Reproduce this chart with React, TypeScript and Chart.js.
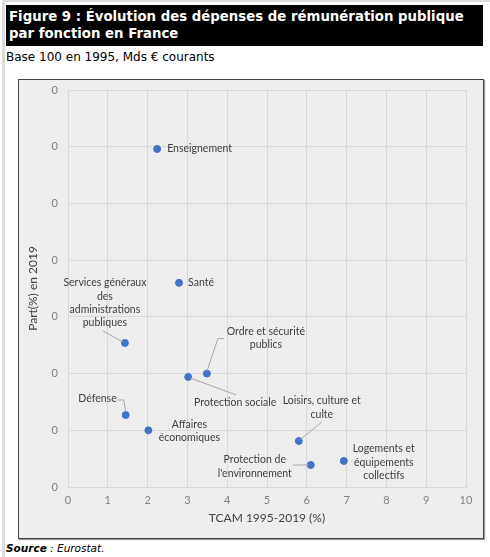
import React, { useEffect, useRef } from "react";
import { Chart, registerables } from "chart.js";

Chart.register(...registerables);

// ---- Data ----
const categories = [
  "Enseignement",
  "Santé",
  "Services généraux des administrations publiques",
  "Ordre et sécurité publics",
  "Protection sociale",
  "Défense",
  "Affaires économiques",
  "Loisirs, culture et culte",
  "Protection de l'environnement",
  "Logements et équipements collectifs",
];
const tcam = [2.24, 2.79, 1.43, 3.49, 3.02, 1.45, 2.02, 5.8, 6.1, 6.93];
const part = [0.298, 0.18, 0.127, 0.1, 0.097, 0.0635, 0.05, 0.0406, 0.0194, 0.023];
const xTickValues = [0, 1, 2, 3, 4, 5, 6, 7, 8, 9, 10];
const yTickValues = [0, 0.05, 0.1, 0.15, 0.2, 0.25, 0.3, 0.35];

const labelLines = [
  ["Enseignement"],
  ["Santé"],
  ["Services généraux", "des", "administrations", "publiques"],
  ["Ordre et sécurité", "publics"],
  ["Protection sociale"],
  ["Défense"],
  ["Affaires", "économiques"],
  ["Loisirs, culture et", "culte"],
  ["Protection de", "l'environnement"],
  ["Logements et", "équipements", "collectifs"],
];

// label placement relative to each point (pixels)
type Lay = { dx: number; dy: number; align: CanvasTextAlign; lead?: number[][] };
const layout: Lay[] = [
  { dx: 10, dy: 0, align: "left" },
  { dx: 9, dy: 0, align: "left" },
  { dx: -20, dy: -60, align: "center", lead: [[-22, -12], [-2, -1]] },
  { dx: 59, dy: -42, align: "center", lead: [[0, -2], [11, -35], [17, -35]] },
  { dx: 47, dy: 26, align: "center", lead: [[2, 1], [48, 18]] },
  { dx: -9, dy: -16, align: "right", lead: [[-8, -15], [-2, -15], [0, -3]] },
  { dx: 41, dy: -6, align: "center" },
  { dx: 23, dy: -40, align: "center", lead: [[1, -1], [23, -19]] },
  { dx: -56, dy: -5, align: "center", lead: [[-18, 0], [-2, 0]] },
  { dx: 40, dy: -12, align: "center" },
];

const CHART_FONT = "Lato, 'Open Sans', sans-serif";

const labelPlugin = {
  id: "pointLabels",
  afterDatasetsDraw(chart: any) {
    const ctx = chart.ctx as CanvasRenderingContext2D;
    const meta = chart.getDatasetMeta(0);
    ctx.save();
    meta.data.forEach((pt: any, i: number) => {
      const L = layout[i];
      const px = pt.x;
      const py = pt.y;
      if (L.lead) {
        ctx.beginPath();
        ctx.strokeStyle = "#a6a6a6";
        ctx.lineWidth = 1;
        L.lead.forEach((p, k) => {
          if (k === 0) ctx.moveTo(px + p[0], py + p[1]);
          else ctx.lineTo(px + p[0], py + p[1]);
        });
        ctx.stroke();
      }
      ctx.fillStyle = "#404040";
      ctx.font = `10.5px ${CHART_FONT}`;
      ctx.textAlign = L.align;
      ctx.textBaseline = "middle";
      labelLines[i].forEach((line, k) => {
        ctx.fillText(line, px + L.dx, py + L.dy + k * 13.3);
      });
    });
    ctx.restore();
  },
};

export default function App() {
  const ref = useRef<HTMLCanvasElement>(null);
  useEffect(() => {
    document.body.style.margin = "0";
    const chart = new Chart(ref.current!, {
      type: "scatter",
      data: {
        datasets: [
          {
            label: "Part",
            data: tcam.map((x, i) => ({ x, y: part[i] })),
            backgroundColor: "#4472C4",
            borderColor: "#4472C4",
            pointRadius: 3.5,
            pointHoverRadius: 3.5,
          },
        ],
      },
      options: {
        responsive: false,
        animation: false,
        layout: { padding: { top: 10, right: 17, left: 0, bottom: 0 } },
        plugins: {
          legend: { display: false },
          tooltip: { enabled: false },
        },
        scales: {
          x: {
            type: "linear",
            min: xTickValues[0],
            max: xTickValues[xTickValues.length - 1],
            afterBuildTicks: (s: any) => {
              s.ticks = xTickValues.map((v) => ({ value: v }));
            },
            afterFit: (s: any) => {
              s.height = 51;
            },
            grid: { color: "#d9d9d9", drawTicks: false },
            border: { color: "#d9d9d9" },
            ticks: {
              padding: 7,
              color: "#7f7f7f",
              font: { family: CHART_FONT, size: 11 },
              callback: (v: any) => String(v),
            },
            title: {
              display: true,
              text: "TCAM 1995-2019 (%)",
              color: "#404040",
              font: { family: CHART_FONT, size: 12 },
              padding: { top: 0, bottom: 13 },
            },
          },
          y: {
            type: "linear",
            min: yTickValues[0],
            max: yTickValues[yTickValues.length - 1],
            afterBuildTicks: (s: any) => {
              s.ticks = yTickValues.map((v) => ({ value: v }));
            },
            afterFit: (s: any) => {
              s.width = 49;
              s.paddingTop = 0;
              s.paddingBottom = 0;
            },
            grid: { color: "#d9d9d9", drawTicks: false },
            border: { color: "#d9d9d9" },
            ticks: {
              padding: 10,
              color: "#7f7f7f",
              font: { family: CHART_FONT, size: 11 },
              callback: (v: any) => Number(v).toFixed(0),
            },
            title: {
              display: true,
              text: "Part(%) en 2019",
              color: "#404040",
              font: { family: CHART_FONT, size: 12 },
              padding: { top: 7, bottom: 0 },
            },
          },
        },
      },
      plugins: [labelPlugin],
    });
    return () => chart.destroy();
  }, []);

  return (
    <div style={{ position: "relative", width: 490, height: 557, background: "#fff", overflow: "hidden" }}>
      <div style={{ position: "absolute", left: 2, top: 0, width: 3, height: 557, background: "#dcdcdc" }} />
      <div style={{ position: "absolute", left: 2, top: 0, width: 488, height: 2, background: "#dcdcdc" }} />
      <div
        style={{
          position: "absolute",
          left: 6,
          top: 5,
          width: 477,
          height: 41,
          background: "#000",
          color: "#fff",
          fontFamily: "'DejaVu Sans', Verdana, sans-serif",
          fontWeight: "bold",
          fontSize: 13.3,
          lineHeight: "17px",
          padding: "3px 0 0 3px",
          boxSizing: "border-box",
        }}
      >
        Figure 9 : Évolution des dépenses de rémunération publique
        <br />
        par fonction en France
      </div>
      <div
        style={{
          position: "absolute",
          left: 6,
          top: 50,
          fontFamily: "'DejaVu Sans', Verdana, sans-serif",
          fontSize: 12,
          color: "#000",
        }}
      >
        Base 100 en 1995, Mds € courants
      </div>
      <div
        style={{
          position: "absolute",
          left: 18,
          top: 79,
          width: 466,
          height: 460,
          boxSizing: "border-box",
          border: "1px solid #404040",
          background: "#eeeeee",
          boxShadow: "1px 1px 1px #9a9a9a",
        }}
      >
        <canvas ref={ref} width={464} height={458} style={{ display: "block", width: 464, height: 458 }} />
      </div>
      <div
        style={{
          position: "absolute",
          left: 6,
          top: 542,
          fontFamily: "'DejaVu Sans', Verdana, sans-serif",
          fontSize: 10.5,
          fontStyle: "italic",
          color: "#000",
        }}
      >
        <b>Source</b> : Eurostat.
      </div>
    </div>
  );
}
